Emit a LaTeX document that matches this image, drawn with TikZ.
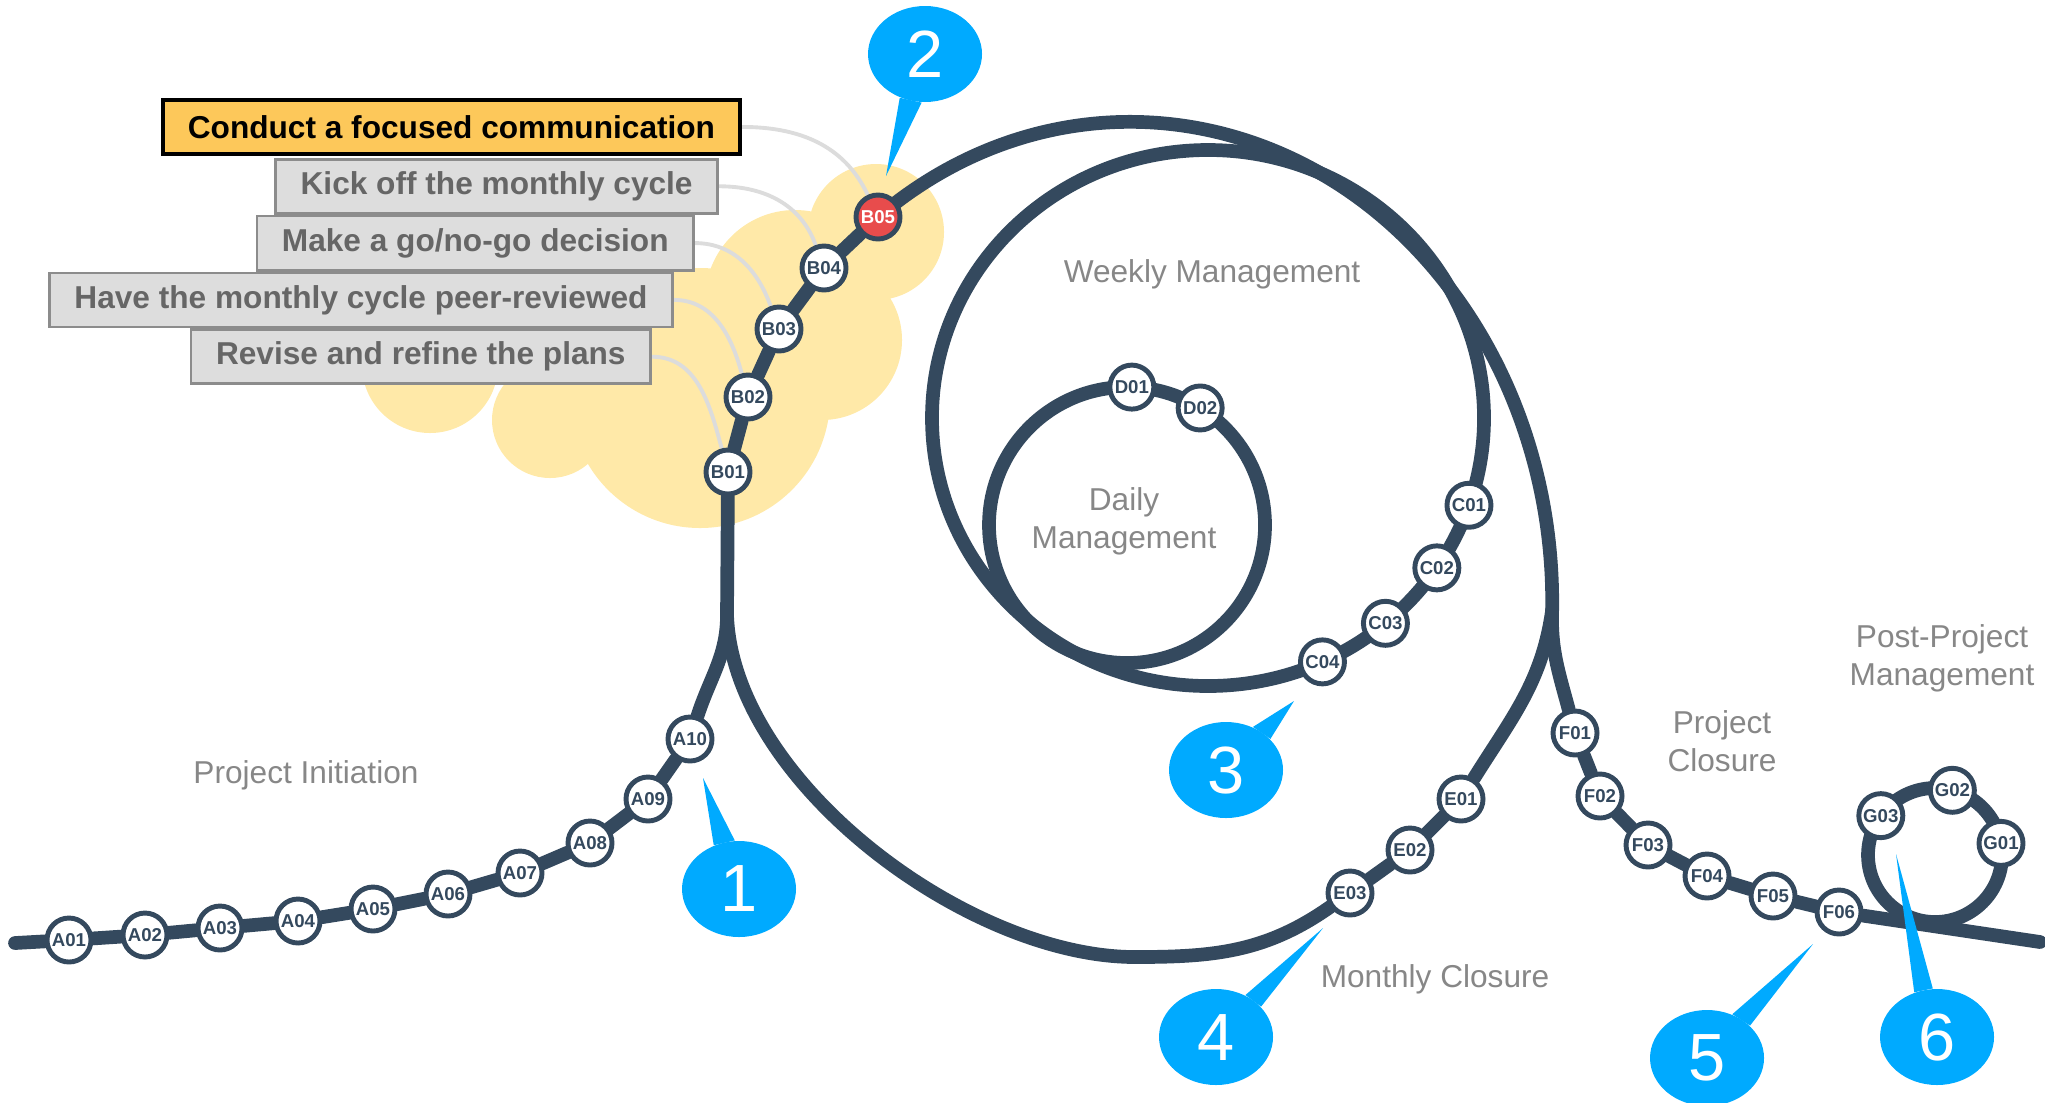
\documentclass[tikz,border=0pt]{standalone}
\usepackage{fontspec}
\setmainfont{Liberation Sans}
\usepackage{tikz}
\usetikzlibrary{shapes.geometric, positioning, calc}
\definecolor{ctrack}{RGB}{52,73,94}
\definecolor{cred}{RGB}{232,76,76}
\definecolor{cblue}{RGB}{0,170,255}
\definecolor{corange}{RGB}{253,200,90}
\definecolor{ccloud}{RGB}{255,233,168}
\definecolor{cbox}{RGB}{221,221,221}
\definecolor{cline}{RGB}{220,220,220}
\pgfdeclarelayer{cloud}
\pgfdeclarelayer{rail}
\pgfsetlayers{cloud,rail,main}

\begin{document}
\begin{tikzpicture}[
  stn/.style    = {circle, draw=ctrack, line width=1.4pt, fill=white,
                   minimum size=0.44cm, inner sep=0pt, text=ctrack,
                   font=\fontsize{5.3}{6}\selectfont\bfseries},
  hot/.style    = {stn, fill=cred, text=white},
  track/.style  = {draw=ctrack, line width=3.9pt, line cap=round},
  note/.style   = {rectangle, draw=black!45, line width=0.8pt, fill=cbox,
                   text=black!60, minimum height=0.54cm, inner xsep=0.25cm,
                   font=\fontsize{9}{10.8}\selectfont\bfseries},
  notehl/.style = {note, draw=black, line width=1.1pt, fill=corange, text=black},
  link/.style   = {draw=cline, line width=1.1pt},
  stage/.style  = {text=black!47, align=center,
                   font=\fontsize{9}{10.8}\selectfont},
  bubble/.style = {ellipse, fill=cblue, minimum width=1.14cm,
                   minimum height=0.96cm, inner sep=0pt, text=white,
                   font=\fontsize{19}{19}\selectfont},
]
\useasboundingbox (0,-11.02) rectangle (20.45,0);

%% --- Cloud ---
\begin{pgfonlayer}{cloud}
  \fill[ccloud] (8.76,-2.32) circle[radius=0.68]
                (8.22,-3.40) circle[radius=0.80]
                (7.95,-3.00) circle[radius=0.90]
                (7.00,-3.98) circle[radius=1.30]
                (6.00,-3.40) circle[radius=1.00]
                (5.50,-4.20) circle[radius=0.58]
                (4.30,-3.65) circle[radius=0.68];
\end{pgfonlayer}

%% --- Project Initiation ---
\coordinate (start) at (0.15,-9.43);
\node[stn] (A01) at (0.69,-9.40) {A01};
\node[stn] (A02) at (1.45,-9.35) {A02};
\node[stn] (A03) at (2.20,-9.28) {A03};
\node[stn] (A04) at (2.98,-9.21) {A04};
\node[stn] (A05) at (3.73,-9.09) {A05};
\node[stn] (A06) at (4.48,-8.94) {A06};
\node[stn] (A07) at (5.20,-8.73) {A07};
\node[stn] (A08) at (5.90,-8.43) {A08};
\node[stn] (A09) at (6.48,-7.99) {A09};
\node[stn] (A10) at (6.90,-7.39) {A10};
\coordinate (jA) at (7.27,-6.15);

%% --- Monthly cycle ---
\node[stn] (B01) at (7.28,-4.72) {B01};
\node[stn] (B02) at (7.48,-3.97) {B02};
\node[stn] (B03) at (7.79,-3.29) {B03};
\node[stn] (B04) at (8.24,-2.68) {B04};
\node[hot] (B05) at (8.78,-2.17) {B05};
\coordinate (bot) at (11.35,-9.57);
\node[stn] (E03) at (13.50,-8.93) {E03};
\node[stn] (E02) at (14.10,-8.50) {E02};
\node[stn] (E01) at (14.61,-7.99) {E01};

%% --- Weekly / daily cycles ---
\coordinate (weekc) at (12.08,-4.18);
\node[stn] (C01) at ($(weekc)+(-19:2.76 and 2.68)$)   {C01};
\node[stn] (C02) at ($(weekc)+(-34:2.76 and 2.68)$)   {C02};
\node[stn] (C03) at ($(weekc)+(-50:2.76 and 2.68)$)   {C03};
\node[stn] (C04) at ($(weekc)+(-65.5:2.76 and 2.68)$) {C04};
\coordinate (dailyc) at (11.27,-5.25);
\node[stn] (D01) at ($(dailyc)+(88:1.38)$) {D01};
\node[stn] (D02) at ($(dailyc)+(58:1.38)$) {D02};

%% --- Closure ---
\node[stn] (F01) at (15.75,-7.33) {F01};
\node[stn] (F02) at (16.00,-7.96) {F02};
\node[stn] (F03) at (16.48,-8.45) {F03};
\node[stn] (F04) at (17.07,-8.76) {F04};
\node[stn] (F05) at (17.73,-8.96) {F05};
\node[stn] (F06) at (18.39,-9.12) {F06};
\coordinate (exit) at (20.40,-9.42);
\coordinate (postc) at (19.35,-8.55);
\node[stn] (G01) at ($(postc)+(10:0.67)$)  {G01};
\node[stn] (G02) at ($(postc)+(75:0.67)$)  {G02};
\node[stn] (G03) at ($(postc)+(144:0.67)$) {G03};

%% --- Notes ---
\node[notehl, anchor=north east] (cmm) at (7.42,-0.98)
     {Conduct a focused communication};
\node[note, anchor=north east] (kick)
     at ([xshift=-0.23cm, yshift=-0.02cm]cmm.south east) {Kick off the monthly cycle};
\node[note, anchor=north east] (gonogo)
     at ([xshift=-0.24cm]kick.south east) {Make a go/no-go decision};
\node[note, anchor=north east] (review)
     at ([xshift=-0.21cm]gonogo.south east) {Have the monthly cycle peer-reviewed};
\node[note, anchor=north east] (revise)
     at ([xshift=-0.22cm]review.south east) {Revise and refine the plans};

%% --- Stage labels ---
\node[stage] (lbinit)  at (3.06,-7.75)  {Project Initiation};
\node[stage] (lbweek)  at (12.12,-2.74) {Weekly Management};
\node[stage] (lbday)   at (11.24,-5.21) {Daily\\Management};
\node[stage] (lbmonth) at (14.35,-9.79) {Monthly Closure};
\node[stage] (lbclose) at (17.22,-7.41) {Project\\Closure};
\node[stage] (lbpost)  at (19.42,-6.58) {Post-Project\\Management};

%% --- Tracks ---
\begin{pgfonlayer}{rail}
  \draw[link] (cmm.east)    to[out=0,in=115] (B05);
  \draw[link] (kick.east)   to[out=0,in=110] (B04);
  \draw[link] (gonogo.east) to[out=0,in=110] (B03);
  \draw[link] (review.east) to[out=0,in=105] (B02);
  \draw[link] (revise.east) to[out=0,in=105] (B01);

  \draw[track] (start) -- (A01) -- (A02) -- (A03) -- (A04) -- (A05)
               -- (A06) -- (A07) -- (A08) -- (A09) -- (A10)
               to[out=72,in=-90] (jA) -- (B01) -- (B02) -- (B03)
               -- (B04) -- (B05);
  \draw[track] (B05.center) arc[start angle=126.7, end angle=-1,
               x radius=4.22, y radius=4.8] coordinate (split);
  \draw[track] (jA) to[out=-88,in=180,looseness=0.8] (bot)
               to[out=0,in=215] (E03) -- (E02) -- (E01)
               to[out=58,in=-98] (split);
  \draw[track] (split) to[out=-92,in=105] (F01) -- (F02) -- (F03)
               -- (F04) -- (F05) -- (F06) -- (exit);
  \draw[track] (weekc) ellipse[x radius=2.76, y radius=2.68];
  \draw[track] (dailyc) circle[radius=1.38];
  \draw[track] (postc) circle[radius=0.67];
\end{pgfonlayer}

%% --- Callouts ---
\coordinate (t1) at (7.03,-7.78);
\coordinate (t2) at (8.86,-1.76);
\coordinate (t3) at (12.94,-7.01);
\coordinate (t4) at (13.23,-9.28);
\coordinate (t5) at (18.13,-9.44);
\coordinate (t6) at (18.96,-8.54);
\node[bubble] (c1) at (7.39,-8.89)   {1};
\node[bubble] (c2) at (9.25,-0.54)   {2};
\node[bubble] (c3) at (12.26,-7.70)  {3};
\node[bubble] (c4) at (12.16,-10.37) {4};
\node[bubble] (c5) at (17.07,-10.58) {5};
\node[bubble] (c6) at (19.37,-10.37) {6};
\fill[cblue] (c1.95)  -- (t1) -- (c1.120) -- cycle;
\fill[cblue] (c2.240) -- (t2) -- (c2.266) -- cycle;
\fill[cblue] (c3.35)  -- (t3) -- (c3.58)  -- cycle;
\fill[cblue] (c4.34)  -- (t4) -- (c4.55)  -- cycle;
\fill[cblue] (c5.37)  -- (t5) -- (c5.60)  -- cycle;
\fill[cblue] (c6.95)  -- (t6) -- (c6.117) -- cycle;

\end{tikzpicture}
\end{document}
